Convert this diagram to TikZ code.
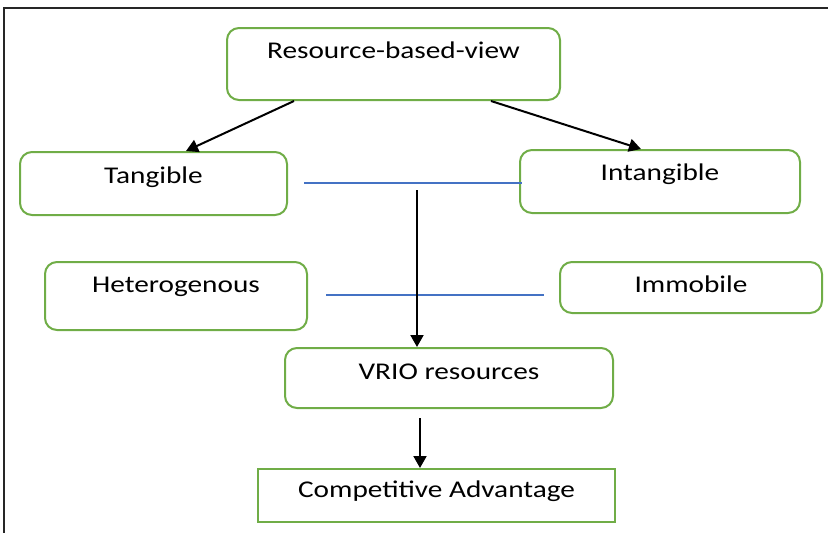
\documentclass[tikz,border=0pt]{standalone}
\usepackage{fontspec}
\setmainfont{Carlito}[FakeStretch=1.22]
\usetikzlibrary{arrows.meta, positioning}
\definecolor{boxgreen}{RGB}{112,173,71}
\definecolor{linkblue}{RGB}{68,114,196}

\begin{document}
\begin{tikzpicture}[x=1pt,y=-1pt,>={Triangle[length=12pt,width=13pt]},
    box/.style={draw=boxgreen,line width=2pt,rounded corners=12pt,text height=1.35em,
      font=\fontsize{24}{24}\selectfont},
    lift/.style={text depth=#1},
    link/.style={draw=linkblue,line width=1.8pt},
    flow/.style={->,line width=2pt}]
      \useasboundingbox (0,0) rectangle (828,533);
      \draw[line width=2.5pt,black!85] (4,533) -- (4,8) -- (828,8);
      \node[box,lift=24pt,minimum width=333pt,minimum height=72pt] (rbv) at (393.5,64) {Resource-based-view};
      \node[box,lift=13pt,minimum width=267pt,minimum height=63pt] (tang) at (153.5,183.5) {Tangible};
      \node[box,lift=15pt,minimum width=280pt,minimum height=63pt] (intang) at (660,181.5) {Intangible};
      \node[box,lift=20pt,minimum width=262pt,minimum height=68pt] (hetero) at (176,296) {Heterogenous};
      \node[box,lift=3pt,minimum width=262pt,minimum height=51pt] (immob) at (691,287.5) {Immobile};
      \node[box,lift=10pt,minimum width=328pt,minimum height=60pt] (vrio) at (449,378) {VRIO resources};
      \node[box,lift=9pt,rounded corners=0pt,minimum width=357pt,minimum height=53pt] (comp) at (436.5,495.5) {Competitive Advantage};
      \coordinate (split) at (417,190);
      \coordinate (vriofoot) at (420,418);
      % resource types
      \draw[flow] ([xshift=68pt]rbv.south west) -- ([xshift=167pt]tang.north west);
      \draw[flow] ([xshift=-70pt]rbv.south east) -- ([xshift=122pt]intang.north west);
      \draw[link] ([xshift=16pt,yshift=0.5pt]tang.east) -- ([xshift=3pt,yshift=0.5pt]tang.east -| intang.west);
      \draw[link] ([xshift=18pt,yshift=1pt]hetero.east) -- ([xshift=-15pt,yshift=1pt]hetero.east -| immob.west);
      % down to the advantage
      \draw[flow] (split) -- (split |- vrio.north);
      \draw[flow] (vriofoot) -- (vriofoot |- comp.north);
    \end{tikzpicture}
\end{document}
